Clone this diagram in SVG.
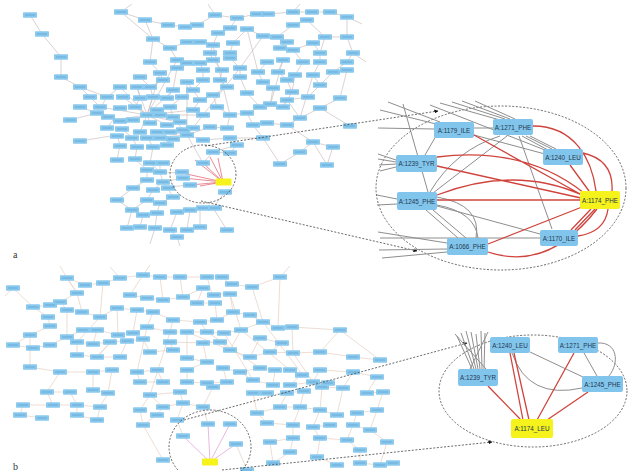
<svg xmlns="http://www.w3.org/2000/svg" width="629" height="471" viewBox="0 0 629 471">
<style>
.e1{stroke:#c9b9b9;stroke-width:.65;fill:none}
.e2{stroke:#e3cbbd;stroke-width:.65;fill:none}
.rt{stroke:#df5a6a;stroke-width:.7;fill:none}
.mt{stroke:#e2a6d8;stroke-width:.8;fill:none}
.rd{stroke:#d0443d;stroke-width:1.3;fill:none}
.gy{stroke:#8e8e8e;stroke-width:1;fill:none}
.ds{stroke:#444;stroke-width:.8;stroke-dasharray:2 1.6;fill:none}
.nb{fill:#82c5ec}
.ny{fill:#f6f21c}
.lb{font-family:"Liberation Sans",Arial,sans-serif;font-size:6.3px;fill:#22384f;text-anchor:middle;dominant-baseline:central}
.pl{font-family:"Liberation Serif","Times New Roman",serif;font-size:10px;fill:#333}
</style>
<defs>
<g id="nd"><rect x="-7" y="-2.8" width="14" height="5.6" rx=".8" fill="#89c9ee"/><rect x="-5" y="-.5" width="10" height="1" fill="#4f8fbf" opacity=".5"/></g>
<marker id="ah" viewBox="0 0 10 10" refX="9" refY="5" markerWidth="5" markerHeight="5" orient="auto"><path d="M0,0 L10,5 L0,10z" fill="#111"/></marker>
</defs>
<rect width="629" height="471" fill="#fff"/>

<!-- ===== Panel a thumbnail network ===== -->
<g id="edges-a">
<path class="e1" d="M30 15L42 34M42 34L61 57M61 57L61 77M61 77L80 87M80 87L107 97M80 87L90 97M121 12L145 20M145 20L168 25M121 12L153 39M145 20L153 39M168 25L185 27M185 27L197 25M197 25L215 15M215 15L237 18M237 18L257 14M268 14L293 12M293 12L312 12M312 12L330 12M330 12L347 17M347 17L347 37M307 20L293 25M293 25L277 37M237 18L230 28M230 28L218 33M218 33L213 45M247 29L263 36M263 36L277 37M277 37L287 42M307 20L325 37M325 37L347 37M325 37L320 53M347 37L353 53M153 39L170 48M170 48L187 42M187 42L200 42M200 42L213 45M213 45L210 53M233 43L230 53M233 43L247 29M287 42L280 48M280 48L293 50M313 43L320 53M313 43L293 50M293 50L303 62M320 53L320 62M353 53L347 62M170 48L177 60M210 53L213 60M230 53L230 58M150 62L153 39M150 62L160 73M177 60L187 63M187 63L200 63M200 63L203 70M213 60L222 70M230 58L240 68M267 62L258 72M283 60L278 72M303 62L295 75M320 62L313 75M347 62L333 72M347 70L340 98M140 77L150 87M160 73L163 80M177 68L173 90M203 70L203 80M222 70L220 80M240 68L240 77M258 72L263 82M278 72L287 80M295 75L292 92M313 75L320 85M333 72L320 85M163 80L150 87M187 82L193 90M203 80L193 90M220 80L227 87M240 77L247 93M263 82L273 88M287 80L292 92M320 85L308 97"/>
<path class="e1" d="M147 115L120 87M147 115L137 87M147 115L173 90M147 115L135 107M147 115L160 115M147 115L133 120M147 115L150 123M147 115L167 125M147 115L140 132M147 115L113 120M147 115L100 107M147 115L123 97M147 115L193 110M147 115L177 122M147 115L203 115M187 135L173 117M187 135L203 140M187 135L170 132M187 135L183 130M187 135L193 128M187 135L210 127M187 135L160 137M187 135L187 82"/>
<path class="e1" d="M120 87L107 97M90 97L100 107M107 97L97 113M97 113L108 115M70 120L97 113M80 107L97 113M113 120L107 128M120 128L132 137M117 135L120 145M80 141L117 135M132 137L137 147M147 137L153 147M160 137L167 145M173 137L167 145M153 147L150 163M137 147L135 159M120 145L117 160M135 159L147 170M150 163L160 172M160 163L160 172M147 170L147 180M160 172L163 182M147 180L133 188M163 182L153 190M163 182L167 187M153 190L147 200M147 200L132 210M160 203L173 197M173 197L167 187M177 212L190 210M200 208L213 208M143 215L157 213M157 213L160 203M132 210L127 228M143 215L140 227M157 213L155 228M177 212L170 230M190 210L187 230M200 208L200 227M213 208L227 230M170 230L177 237M117 200L132 210M117 200L133 188M177 237L180 246M155 228L150 244"/>
<path class="e1" d="M203 140L230 138M230 138L237 145M237 145L213 152M213 152L230 153M230 138L263 138M263 138L253 125M253 125L267 123M267 123L287 125M287 125L300 118M300 118L287 100M287 125L313 142M313 142L333 147M313 142L300 152M300 152L280 164M333 147L327 165M350 126L320 108M320 108L300 118M283 107L270 106M270 106L260 107M260 107L247 113M247 113L230 115M230 115L217 107M217 107L213 95M213 95L200 100M200 100L193 110M230 115L227 128M227 128L210 127M247 113L253 125M283 107L287 100M308 97L287 100M340 98L320 108M227 87L213 95M247 93L260 107M273 88L270 106M292 92L283 107M193 90L200 100M182 97L193 90M167 98L173 90M153 97L147 115M157 110L147 115M170 107L173 117M182 97L170 107M140 98L135 107M153 97L150 87M137 87L140 98M203 115L193 128M240 68L203 115M263 36L240 68M283 60L270 106M213 45L230 115M177 60L147 115M313 75L300 118M247 29L258 72M160 73L147 115M230 153L237 145M280 164L263 138M327 165L313 142M203 163L213 152M182 173L160 172M183 178L163 182M190 185L167 187M225 192L213 208M203 163L187 135M121 12L132 4M215 15L208 4M293 12L300 4M347 17L362 24M353 53L366 62"/>
<path class="rt" d="M223 182L182 173M223 182L183 178M223 182L190 185M223 182L203 163M223 182L195 160M223 182L210 157M223 182L218 158M223 182L200 186"/>
</g>
<g id="nodes-a">
<use id="a1" href="#nd" x="30" y="15"/><use id="a2" href="#nd" x="42" y="34"/><use id="a3" href="#nd" x="61" y="57"/><use id="a4" href="#nd" x="61" y="77"/><use id="a5" href="#nd" x="80" y="87"/>
<use id="a6" href="#nd" x="121" y="12"/><use id="a7" href="#nd" x="145" y="20"/><use id="a8" href="#nd" x="168" y="25"/><use id="a9" href="#nd" x="185" y="27"/><use id="a10" href="#nd" x="197" y="25"/>
<use id="a11" href="#nd" x="215" y="15"/><use id="a12" href="#nd" x="237" y="18"/><use id="a13" href="#nd" x="257" y="14"/><use id="a14" href="#nd" x="268" y="14"/><use id="a15" href="#nd" x="293" y="12"/><use id="a16" href="#nd" x="312" y="12"/><use id="a17" href="#nd" x="330" y="12"/><use id="a18" href="#nd" x="347" y="17"/>
<use id="a19" href="#nd" x="218" y="33"/><use id="a20" href="#nd" x="230" y="28"/><use id="a21" href="#nd" x="247" y="29"/><use id="a22" href="#nd" x="263" y="36"/><use id="a23" href="#nd" x="277" y="37"/><use id="a24" href="#nd" x="293" y="25"/><use id="a25" href="#nd" x="307" y="20"/><use id="a26" href="#nd" x="325" y="37"/><use id="a27" href="#nd" x="347" y="37"/><use id="a28" href="#nd" x="153" y="39"/>
<use id="a29" href="#nd" x="187" y="42"/><use id="a30" href="#nd" x="200" y="42"/><use id="a31" href="#nd" x="213" y="45"/><use id="a32" href="#nd" x="233" y="43"/><use id="a33" href="#nd" x="287" y="42"/><use id="a34" href="#nd" x="313" y="43"/><use id="a35" href="#nd" x="280" y="48"/><use id="a36" href="#nd" x="170" y="48"/><use id="a37" href="#nd" x="210" y="53"/><use id="a38" href="#nd" x="230" y="53"/><use id="a39" href="#nd" x="320" y="53"/><use id="a40" href="#nd" x="353" y="53"/><use id="a41" href="#nd" x="293" y="50"/>
<use id="a42" href="#nd" x="150" y="62"/><use id="a43" href="#nd" x="177" y="60"/><use id="a44" href="#nd" x="187" y="63"/><use id="a45" href="#nd" x="200" y="63"/><use id="a46" href="#nd" x="213" y="60"/><use id="a47" href="#nd" x="230" y="58"/><use id="a48" href="#nd" x="267" y="62"/><use id="a49" href="#nd" x="283" y="60"/><use id="a50" href="#nd" x="303" y="62"/><use id="a51" href="#nd" x="320" y="62"/><use id="a52" href="#nd" x="347" y="62"/>
<use id="a53" href="#nd" x="140" y="77"/><use id="a54" href="#nd" x="160" y="73"/><use id="a55" href="#nd" x="177" y="68"/><use id="a56" href="#nd" x="203" y="70"/><use id="a57" href="#nd" x="222" y="70"/><use id="a58" href="#nd" x="240" y="68"/><use id="a59" href="#nd" x="258" y="72"/><use id="a60" href="#nd" x="278" y="72"/><use id="a61" href="#nd" x="295" y="75"/><use id="a62" href="#nd" x="313" y="75"/><use id="a63" href="#nd" x="333" y="72"/><use id="a64" href="#nd" x="347" y="70"/>
<use id="a65" href="#nd" x="163" y="80"/><use id="a66" href="#nd" x="187" y="82"/><use id="a67" href="#nd" x="203" y="80"/><use id="a68" href="#nd" x="220" y="80"/><use id="a69" href="#nd" x="240" y="77"/><use id="a70" href="#nd" x="263" y="82"/><use id="a71" href="#nd" x="287" y="80"/><use id="a72" href="#nd" x="320" y="85"/>
<use id="a73" href="#nd" x="120" y="87"/><use id="a74" href="#nd" x="137" y="87"/><use id="a75" href="#nd" x="150" y="87"/><use id="a76" href="#nd" x="173" y="90"/><use id="a77" href="#nd" x="193" y="90"/><use id="a78" href="#nd" x="227" y="87"/><use id="a79" href="#nd" x="247" y="93"/><use id="a80" href="#nd" x="273" y="88"/><use id="a81" href="#nd" x="292" y="92"/><use id="a82" href="#nd" x="308" y="97"/><use id="a83" href="#nd" x="340" y="98"/>
<use id="a84" href="#nd" x="90" y="97"/><use id="a85" href="#nd" x="107" y="97"/><use id="a86" href="#nd" x="123" y="97"/><use id="a87" href="#nd" x="140" y="98"/><use id="a88" href="#nd" x="153" y="97"/><use id="a89" href="#nd" x="167" y="98"/><use id="a90" href="#nd" x="182" y="97"/><use id="a91" href="#nd" x="200" y="100"/><use id="a92" href="#nd" x="213" y="95"/><use id="a93" href="#nd" x="287" y="100"/>
<use id="a94" href="#nd" x="80" y="107"/><use id="a95" href="#nd" x="100" y="107"/><use id="a96" href="#nd" x="120" y="108"/><use id="a97" href="#nd" x="135" y="107"/><use id="a98" href="#nd" x="157" y="110"/><use id="a99" href="#nd" x="170" y="107"/><use id="a100" href="#nd" x="193" y="110"/><use id="a101" href="#nd" x="217" y="107"/><use id="a102" href="#nd" x="260" y="107"/><use id="a103" href="#nd" x="270" y="104"/><use id="a104" href="#nd" x="283" y="107"/><use id="a105" href="#nd" x="320" y="108"/>
<use id="a106" href="#nd" x="97" y="113"/><use id="a107" href="#nd" x="108" y="117"/><use id="a108" href="#nd" x="147" y="115"/><use id="a109" href="#nd" x="160" y="115"/><use id="a110" href="#nd" x="173" y="117"/><use id="a111" href="#nd" x="203" y="115"/><use id="a112" href="#nd" x="230" y="115"/><use id="a113" href="#nd" x="247" y="113"/><use id="a114" href="#nd" x="300" y="118"/>
<use id="a115" href="#nd" x="70" y="120"/><use id="a116" href="#nd" x="120" y="121"/><use id="a117" href="#nd" x="133" y="120"/><use id="a118" href="#nd" x="150" y="123"/><use id="a119" href="#nd" x="167" y="125"/><use id="a120" href="#nd" x="180" y="122"/><use id="a121" href="#nd" x="193" y="128"/><use id="a122" href="#nd" x="210" y="127"/><use id="a123" href="#nd" x="227" y="128"/><use id="a124" href="#nd" x="253" y="125"/><use id="a125" href="#nd" x="267" y="123"/><use id="a126" href="#nd" x="287" y="125"/><use id="a127" href="#nd" x="350" y="126"/>
<use id="a128" href="#nd" x="107" y="128"/><use id="a129" href="#nd" x="122" y="129"/><use id="a130" href="#nd" x="140" y="132"/><use id="a131" href="#nd" x="157" y="132"/><use id="a132" href="#nd" x="170" y="132"/><use id="a133" href="#nd" x="183" y="130"/>
<use id="a134" href="#nd" x="80" y="141"/><use id="a135" href="#nd" x="117" y="136"/><use id="a136" href="#nd" x="132" y="138"/><use id="a137" href="#nd" x="147" y="138"/><use id="a138" href="#nd" x="160" y="138"/><use id="a139" href="#nd" x="173" y="139"/><use id="a140" href="#nd" x="187" y="135"/><use id="a141" href="#nd" x="203" y="140"/><use id="a142" href="#nd" x="230" y="138"/><use id="a143" href="#nd" x="263" y="138"/>
<use id="a144" href="#nd" x="120" y="146"/><use id="a145" href="#nd" x="137" y="147"/><use id="a146" href="#nd" x="153" y="147"/><use id="a147" href="#nd" x="167" y="145"/><use id="a148" href="#nd" x="237" y="145"/><use id="a149" href="#nd" x="313" y="142"/><use id="a150" href="#nd" x="333" y="147"/><use id="a151" href="#nd" x="300" y="152"/>
<use id="a152" href="#nd" x="117" y="160"/><use id="a153" href="#nd" x="135" y="159"/><use id="a154" href="#nd" x="150" y="163"/><use id="a155" href="#nd" x="163" y="163"/><use id="a156" href="#nd" x="213" y="152"/><use id="a157" href="#nd" x="230" y="153"/><use id="a158" href="#nd" x="280" y="164"/><use id="a159" href="#nd" x="327" y="165"/>
<use id="a160" href="#nd" x="147" y="170"/><use id="a161" href="#nd" x="160" y="172"/><use id="a162" href="#nd" x="147" y="180"/><use id="a163" href="#nd" x="163" y="182"/><use id="a164" href="#nd" x="133" y="188"/><use id="a165" href="#nd" x="153" y="190"/><use id="a166" href="#nd" x="168" y="188"/>
<use id="a167" href="#nd" x="203" y="163"/><use id="a168" href="#nd" x="182" y="172"/><use id="a169" href="#nd" x="183" y="178"/><use id="a170" href="#nd" x="190" y="185"/><use id="a171" href="#nd" x="225" y="192"/>
<use id="a172" href="#nd" x="117" y="200"/><use id="a173" href="#nd" x="132" y="210"/><use id="a174" href="#nd" x="147" y="200"/><use id="a175" href="#nd" x="160" y="203"/><use id="a176" href="#nd" x="173" y="197"/><use id="a177" href="#nd" x="177" y="212"/><use id="a178" href="#nd" x="190" y="210"/><use id="a179" href="#nd" x="203" y="208"/><use id="a180" href="#nd" x="215" y="208"/><use id="a181" href="#nd" x="143" y="215"/><use id="a182" href="#nd" x="157" y="213"/>
<use id="a183" href="#nd" x="127" y="228"/><use id="a184" href="#nd" x="140" y="227"/><use id="a185" href="#nd" x="155" y="228"/><use id="a186" href="#nd" x="170" y="230"/><use id="a187" href="#nd" x="187" y="230"/><use id="a188" href="#nd" x="200" y="227"/><use id="a189" href="#nd" x="227" y="230"/><use id="a190" href="#nd" x="177" y="237"/>
<rect id="a-yellow" x="215.5" y="178.5" width="16" height="7" rx="1" class="ny"/>
</g>

<!-- ===== Panel b thumbnail network ===== -->
<g id="edges-b">
<path class="e2" d="M13 288L33 307M33 307L50 305M50 305L60 302M60 302L77 293M77 293L67 278M67 278L85 285M85 285L103 283M103 283L120 278M120 278L143 275M143 275L160 277M160 277L180 277M180 277L207 277M207 277L222 277M222 277L230 284M230 284L252 287M252 287L280 277M203 288L183 297M130 295L147 298M147 298L163 300M163 300L183 297M212 294L230 294M197 303L215 303M60 302L67 310M67 310L82 312M82 312L100 317M100 317L117 308M117 308L137 310M137 310L153 312M153 312L173 320M173 320L200 322M200 322L217 320M217 320L233 312M233 312L250 315M48 317L50 326M50 326L30 335M30 335L13 345M13 345L33 348M33 348L50 345M50 345L67 337M67 337L83 330M83 330L97 330M97 330L118 335M118 335L133 333M133 333L147 327M147 327L170 332M170 332L187 332M187 332L207 332M207 332L224 333M224 333L241 330M241 330L263 322M263 322L278 328M278 328L292 327M292 327L340 330M77 342L93 344M93 344L110 342M110 342L127 341M127 341L143 339M170 342L203 343M203 343L220 342M260 338L282 343M77 355L97 357M97 357L120 357M150 352L173 350M187 358L207 362M230 350L250 357M250 357L270 352M270 352L293 353M293 353L320 352M320 352L353 357M353 357L380 360M30 367L60 372M60 372L93 372M93 372L112 370M137 372L157 370M187 370L207 362M223 368L240 372M240 372L260 368M260 368L275 370M290 370L302 374M320 370L353 372M353 372L377 377M140 382L163 382M187 382L207 383M207 383L227 382M253 380L273 385M290 385L313 382M313 382L328 383M47 392L70 392M93 390L108 393M150 395L180 392M213 387L227 382M253 393L267 393M287 393L304 391M322 387L343 388M367 393L383 392M23 405L53 405M53 405L77 405M77 405L100 407M163 407L183 403M183 403L203 407M257 413L280 407M280 407L300 407M300 407L320 410M320 410L337 415M357 413L377 410M20 415L42 418M97 420L77 415M143 425L157 415M267 423L293 425M313 427L330 425M353 425L370 430M270 442L293 438M320 438L347 440M273 463L290 452M317 457L337 465M360 450L360 463M360 463L380 465"/>
<path class="e2" d="M67 278L77 293M103 283L100 317M143 275L130 295M160 277L163 300M180 277L183 297M207 277L212 294M230 294L233 312M203 288L197 303M215 303L217 320M77 293L82 312M117 308L118 335M137 310L133 333M153 312L147 327M173 320L170 332M200 322L207 332M250 315L263 322M48 317L33 307M67 310L67 337M97 330L93 344M110 342L97 357M127 341L120 357M143 339L150 352M170 342L173 350M187 332L187 358M203 343L207 362M220 342L230 350M241 330L230 350M260 338L250 357M282 343L270 352M292 327L293 353M340 330L320 352M77 342L77 355M30 335L30 367M60 372L47 392M93 372L93 390M112 370L108 393M137 372L140 382M157 370L163 382M187 370L187 382M223 368L227 382M240 372L253 380M275 370L273 385M302 374L290 385M320 370L313 382M353 372L343 388M377 377L367 393M70 392L77 405M47 392L53 405M108 393L100 407M150 395L163 407M180 392L183 403M213 387L203 407M253 393L257 413M287 393L280 407M304 391L300 407M322 387L320 410M343 388L337 415M383 392L377 410M23 405L20 415M77 405L77 415M100 407L97 420M163 407L157 415M183 403L177 420M257 413L267 423M300 407L293 425M320 410L313 427M357 413L353 425M377 410L370 430M293 425L293 438M313 427L320 438M353 425L347 440M370 430L387 442M293 438L290 452M320 438L317 457M347 440L360 450M387 442L380 465M270 442L273 463M177 420L183 436M203 407L208 424M143 425L163 460M236 444L247 470M187 332L230 350M207 332L260 368M224 333L253 380M241 330L290 370M263 322L302 374M170 332L150 395M147 327L137 372M118 335L97 357M100 317L77 342M230 294L241 330M252 287L263 322M280 277L278 328M340 330L380 360M293 353L313 382M67 278L60 266M143 275L150 265M280 277L290 266M120 278L110 267M13 288L5 296M393 463L380 465M140 410L150 395M140 410L143 425"/>
<path class="mt" d="M210 462L183 436M210 462L208 424M210 462L230 424M210 462L236 444"/>
</g>
<g id="nodes-b">
<use id="b1" href="#nd" x="13" y="288"/><use id="b2" href="#nd" x="67" y="278"/><use id="b3" href="#nd" x="85" y="285"/><use id="b4" href="#nd" x="103" y="283"/><use id="b5" href="#nd" x="120" y="278"/><use id="b6" href="#nd" x="143" y="275"/><use id="b7" href="#nd" x="160" y="277"/><use id="b8" href="#nd" x="180" y="277"/><use id="b9" href="#nd" x="207" y="277"/><use id="b10" href="#nd" x="222" y="277"/><use id="b11" href="#nd" x="232" y="284"/><use id="b12" href="#nd" x="252" y="287"/><use id="b13" href="#nd" x="280" y="277"/><use id="b14" href="#nd" x="203" y="288"/>
<use id="b15" href="#nd" x="77" y="293"/><use id="b16" href="#nd" x="130" y="295"/><use id="b17" href="#nd" x="147" y="298"/><use id="b18" href="#nd" x="163" y="300"/><use id="b19" href="#nd" x="183" y="297"/><use id="b20" href="#nd" x="214" y="295"/><use id="b21" href="#nd" x="230" y="294"/><use id="b22" href="#nd" x="197" y="303"/><use id="b23" href="#nd" x="215" y="303"/><use id="b24" href="#nd" x="60" y="302"/><use id="b25" href="#nd" x="33" y="307"/><use id="b26" href="#nd" x="50" y="305"/>
<use id="b27" href="#nd" x="67" y="310"/><use id="b28" href="#nd" x="82" y="312"/><use id="b29" href="#nd" x="100" y="317"/><use id="b30" href="#nd" x="117" y="308"/><use id="b31" href="#nd" x="137" y="310"/><use id="b32" href="#nd" x="153" y="312"/><use id="b33" href="#nd" x="173" y="320"/><use id="b34" href="#nd" x="200" y="322"/><use id="b35" href="#nd" x="217" y="320"/><use id="b36" href="#nd" x="233" y="312"/><use id="b37" href="#nd" x="250" y="315"/><use id="b38" href="#nd" x="48" y="317"/>
<use id="b39" href="#nd" x="50" y="326"/><use id="b40" href="#nd" x="97" y="330"/><use id="b41" href="#nd" x="118" y="335"/><use id="b42" href="#nd" x="133" y="333"/><use id="b43" href="#nd" x="147" y="327"/><use id="b44" href="#nd" x="170" y="332"/><use id="b45" href="#nd" x="187" y="332"/><use id="b46" href="#nd" x="207" y="332"/><use id="b47" href="#nd" x="224" y="333"/><use id="b48" href="#nd" x="241" y="330"/><use id="b49" href="#nd" x="263" y="322"/><use id="b50" href="#nd" x="278" y="328"/><use id="b51" href="#nd" x="292" y="327"/><use id="b52" href="#nd" x="340" y="330"/><use id="b53" href="#nd" x="30" y="335"/><use id="b54" href="#nd" x="67" y="337"/><use id="b55" href="#nd" x="83" y="330"/>
<use id="b56" href="#nd" x="13" y="345"/><use id="b57" href="#nd" x="33" y="348"/><use id="b58" href="#nd" x="50" y="345"/><use id="b59" href="#nd" x="77" y="342"/><use id="b60" href="#nd" x="93" y="344"/><use id="b61" href="#nd" x="110" y="342"/><use id="b62" href="#nd" x="127" y="341"/><use id="b63" href="#nd" x="143" y="339"/><use id="b64" href="#nd" x="170" y="342"/><use id="b65" href="#nd" x="203" y="343"/><use id="b66" href="#nd" x="220" y="342"/><use id="b67" href="#nd" x="260" y="338"/><use id="b68" href="#nd" x="282" y="343"/>
<use id="b69" href="#nd" x="77" y="355"/><use id="b70" href="#nd" x="97" y="357"/><use id="b71" href="#nd" x="120" y="357"/><use id="b72" href="#nd" x="150" y="352"/><use id="b73" href="#nd" x="173" y="350"/><use id="b74" href="#nd" x="187" y="358"/><use id="b75" href="#nd" x="207" y="362"/><use id="b76" href="#nd" x="230" y="350"/><use id="b77" href="#nd" x="250" y="357"/><use id="b78" href="#nd" x="270" y="352"/><use id="b79" href="#nd" x="293" y="353"/><use id="b80" href="#nd" x="320" y="352"/><use id="b81" href="#nd" x="353" y="357"/><use id="b82" href="#nd" x="380" y="360"/>
<use id="b83" href="#nd" x="30" y="367"/><use id="b84" href="#nd" x="60" y="372"/><use id="b85" href="#nd" x="93" y="372"/><use id="b86" href="#nd" x="112" y="370"/><use id="b87" href="#nd" x="137" y="372"/><use id="b88" href="#nd" x="157" y="370"/><use id="b89" href="#nd" x="187" y="370"/><use id="b90" href="#nd" x="223" y="368"/><use id="b91" href="#nd" x="240" y="372"/><use id="b92" href="#nd" x="260" y="368"/><use id="b93" href="#nd" x="275" y="370"/><use id="b94" href="#nd" x="290" y="370"/><use id="b95" href="#nd" x="302" y="375"/><use id="b96" href="#nd" x="320" y="370"/><use id="b97" href="#nd" x="353" y="372"/><use id="b98" href="#nd" x="377" y="377"/>
<use id="b99" href="#nd" x="140" y="382"/><use id="b100" href="#nd" x="163" y="382"/><use id="b101" href="#nd" x="187" y="382"/><use id="b102" href="#nd" x="207" y="383"/><use id="b103" href="#nd" x="227" y="382"/><use id="b104" href="#nd" x="253" y="380"/><use id="b105" href="#nd" x="273" y="385"/><use id="b106" href="#nd" x="290" y="385"/><use id="b107" href="#nd" x="313" y="382"/><use id="b108" href="#nd" x="328" y="383"/>
<use id="b109" href="#nd" x="47" y="392"/><use id="b110" href="#nd" x="70" y="392"/><use id="b111" href="#nd" x="93" y="390"/><use id="b112" href="#nd" x="108" y="393"/><use id="b113" href="#nd" x="150" y="395"/><use id="b114" href="#nd" x="180" y="392"/><use id="b115" href="#nd" x="213" y="387"/><use id="b116" href="#nd" x="253" y="393"/><use id="b117" href="#nd" x="267" y="393"/><use id="b118" href="#nd" x="287" y="393"/><use id="b119" href="#nd" x="304" y="391"/><use id="b120" href="#nd" x="322" y="387"/><use id="b121" href="#nd" x="343" y="388"/><use id="b122" href="#nd" x="367" y="393"/><use id="b123" href="#nd" x="383" y="392"/>
<use id="b124" href="#nd" x="23" y="405"/><use id="b125" href="#nd" x="53" y="405"/><use id="b126" href="#nd" x="77" y="405"/><use id="b127" href="#nd" x="100" y="407"/><use id="b128" href="#nd" x="140" y="410"/><use id="b129" href="#nd" x="163" y="407"/><use id="b130" href="#nd" x="183" y="403"/><use id="b131" href="#nd" x="203" y="407"/><use id="b132" href="#nd" x="257" y="413"/><use id="b133" href="#nd" x="280" y="407"/><use id="b134" href="#nd" x="300" y="407"/><use id="b135" href="#nd" x="320" y="410"/><use id="b136" href="#nd" x="337" y="415"/><use id="b137" href="#nd" x="357" y="413"/><use id="b138" href="#nd" x="377" y="410"/>
<use id="b139" href="#nd" x="20" y="415"/><use id="b140" href="#nd" x="42" y="418"/><use id="b141" href="#nd" x="77" y="415"/><use id="b142" href="#nd" x="157" y="415"/>
<use id="b143" href="#nd" x="97" y="420"/><use id="b144" href="#nd" x="143" y="425"/><use id="b145" href="#nd" x="177" y="420"/><use id="b146" href="#nd" x="267" y="423"/><use id="b147" href="#nd" x="293" y="425"/><use id="b148" href="#nd" x="313" y="427"/><use id="b149" href="#nd" x="330" y="425"/><use id="b150" href="#nd" x="353" y="425"/><use id="b151" href="#nd" x="370" y="430"/>
<use id="b152" href="#nd" x="183" y="436"/><use id="b153" href="#nd" x="208" y="424"/><use id="b154" href="#nd" x="230" y="424"/><use id="b155" href="#nd" x="236" y="444"/>
<use id="b156" href="#nd" x="270" y="442"/><use id="b157" href="#nd" x="293" y="438"/><use id="b158" href="#nd" x="320" y="438"/><use id="b159" href="#nd" x="347" y="440"/><use id="b160" href="#nd" x="387" y="442"/>
<use id="b161" href="#nd" x="163" y="460"/><use id="b162" href="#nd" x="273" y="463"/><use id="b163" href="#nd" x="290" y="452"/><use id="b164" href="#nd" x="317" y="457"/><use id="b165" href="#nd" x="337" y="465"/><use id="b166" href="#nd" x="360" y="450"/><use id="b167" href="#nd" x="360" y="463"/><use id="b168" href="#nd" x="380" y="465"/><use id="b169" href="#nd" x="393" y="463"/><use id="b170" href="#nd" x="247" y="470"/>
<rect id="b-yellow" x="202" y="458.5" width="16" height="7" rx="1" class="ny"/>
</g>

<!-- ===== Zoom outlines and connectors ===== -->
<g id="connectors">
<ellipse class="ds" cx="203" cy="174" rx="33" ry="29"/>
<ellipse class="ds" cx="501" cy="188" rx="125" ry="82"/>
<path class="ds" d="M205 146L438 111" marker-end="url(#ah)"/>
<path class="ds" d="M201 201L417 251" marker-end="url(#ah)"/>
<ellipse class="ds" cx="210" cy="447" rx="41" ry="37"/>
<ellipse class="ds" cx="533" cy="391" rx="94" ry="56"/>
<path class="ds" d="M184 420L467 343" marker-end="url(#ah)"/>
<path class="ds" d="M222 470L492 442" marker-end="url(#ah)"/>
</g>

<!-- ===== Magnified a ===== -->
<g id="edges-za">
<path class="gy" d="M380 110L436 124M378 128L434 129M388 102L440 122M403 104L428 192M440 103L500 120M452 102L505 119M462 101L510 119M475 101L515 119M522 136L548 150M526 136L552 149M530 136L556 149M430 105L545 150M474 135L545 154M474 128L493 128M519 136L552 229M507 136L433 193M500 136Q455 150 430 192M437 206L540 234M426 210L458 238M433 210L466 238M476 238Q482 205 437 197M437 205Q475 212 478 238M378 154L396 160M378 159L396 162M379 165L396 164M380 171L396 167M377 195L397 199M377 205L397 204M378 232L447 243M380 238L540 238M379 250L447 249M382 258L447 252M436 136L425 155"/>
<path class="rd" d="M533 126C575 126 592 160 596 191M474 135L582 195M437 166L581 198M437 157Q525 146 584 193M437 200L580 200M437 195Q515 165 582 195M570 165L589 191M583 153Q614 160 612 191M488 244L582 207M488 252Q548 272 597 209M571 230L591 209M575 230L595 209M578 236Q605 232 608 209"/>
</g>
<g id="n-a1179"><rect class="nb" x="434" y="122" width="40" height="16" rx="2"/><text class="lb" x="454" y="130">A:1179_ILE</text></g>
<g id="n-a1271"><rect class="nb" x="493" y="119" width="40" height="16" rx="2"/><text class="lb" x="513" y="127">A:1271_PHE</text></g>
<g id="n-a1240"><rect class="nb" x="543" y="149" width="40" height="16" rx="2"/><text class="lb" x="563" y="157">A:1240_LEU</text></g>
<g id="n-a1239"><rect class="nb" x="396" y="155" width="41" height="17" rx="2"/><text class="lb" x="416.5" y="163.5">A:1239_TYR</text></g>
<g id="n-a1245"><rect class="nb" x="397" y="192" width="40" height="18" rx="2"/><text class="lb" x="417" y="201">A:1245_PHE</text></g>
<g id="n-a1174"><rect class="ny" x="580" y="191" width="40" height="18" rx="2"/><text class="lb" x="600" y="200">A:1174_PHE</text></g>
<g id="n-a1170"><rect class="nb" x="540" y="230" width="38" height="16" rx="2"/><text class="lb" x="559" y="238">A:1170_ILE</text></g>
<g id="n-a1066"><rect class="nb" x="447" y="238" width="41" height="17" rx="2"/><text class="lb" x="467.5" y="246.5">A:1066_PHE</text></g>

<!-- ===== Magnified b ===== -->
<g id="edges-zb">
<path class="gy" d="M530 352L583 377M512 353Q528 400 582 388M584 353L597 376M598 343C617 342 620 362 609 376M457 336L472 369M461 333L474 369M466 331L476 369M471 332L478 369M476 334L480 369M481 331L482 369M485 333L484 369M488 332L470 369M455 334L486 369"/>
<path class="rd" d="M488 386L521 420M510 353L523 420M514 353L529 420M574 353L537 420M588 392L547 420"/>
</g>
<g id="n-b1240"><rect class="nb" x="490" y="337" width="40" height="16" rx="2"/><text class="lb" x="510" y="345">A:1240_LEU</text></g>
<g id="n-b1271"><rect class="nb" x="558" y="337" width="40" height="16" rx="2"/><text class="lb" x="578" y="345">A:1271_PHE</text></g>
<g id="n-b1239"><rect class="nb" x="458" y="369" width="40" height="17" rx="2"/><text class="lb" x="478" y="377.5">A:1239_TYR</text></g>
<g id="n-b1245"><rect class="nb" x="582" y="376" width="41" height="16" rx="2"/><text class="lb" x="602.5" y="384">A:1245_PHE</text></g>
<g id="n-b1174"><rect class="ny" x="511" y="419" width="42" height="19" rx="2"/><text class="lb" x="532" y="428.5">A:1174_LEU</text></g>

<text class="pl" x="13" y="258">a</text>
<text class="pl" x="13" y="470">b</text>
</svg>
